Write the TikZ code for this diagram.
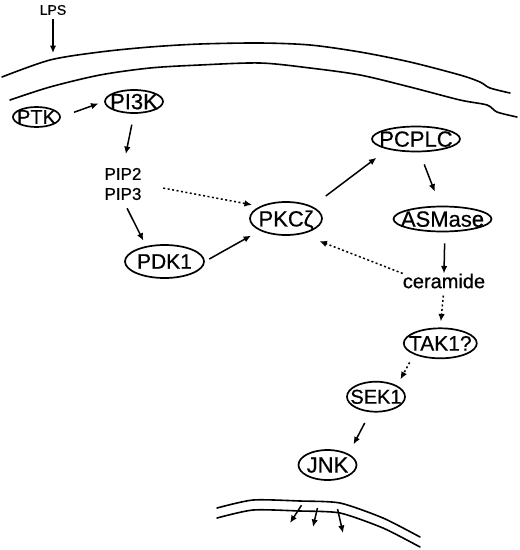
\documentclass[tikz,border=0pt]{standalone}
\usepackage{fontspec}
\setmainfont{Liberation Sans}[BoldFont={Liberation Sans},BoldFeatures={FakeBold=0.6}]
\usetikzlibrary{arrows.meta,shapes.geometric}
\begin{document}
\begin{tikzpicture}[x=1pt,y=-1pt,
  every node/.append style={font=\bfseries},
  ell/.style={ellipse,draw,line width=1.7pt,inner sep=0pt,text depth=0pt,font=\fontsize{22}{26}\selectfont\bfseries},
  arr/.style={line width=1.5pt,-{Latex[length=7.5pt,width=6.5pt]}},
  darr/.style={arr,dash pattern=on 2pt off 2.5pt},
  memb/.style={line width=1.6pt,line cap=round}]
\useasboundingbox (0,0) rectangle (520,550);
% plasma membrane
\draw[memb] plot[smooth,tension=0.5] coordinates {(2,77) (50,60) (100,52) (150,47) (200,44) (260,43) (310,45) (360,52) (410,62) (460,75) (480,82) (490,88) (510,93)};
\draw[memb] plot[smooth,tension=0.5] coordinates {(10,100) (50,87) (100,75) (150,68) (200,65) (260,63) (310,68) (360,75) (410,87) (460,100) (487,105) (497,112) (517,117)};
% nuclear membrane
\draw[memb] plot[smooth,tension=0.4] coordinates {(217,508) (253,500) (300,501) (340,503) (383,518) (420,537)};
\draw[memb] plot[smooth,tension=0.4] coordinates {(217,518) (253,510) (300,511) (340,513) (383,528) (420,547)};
% nodes
\node[font=\fontsize{14}{16}\selectfont\bfseries,inner sep=0pt] (lps) at (53,10) {LPS};
\coordinate (lpsend) at (53,53);
\node[ell,minimum width=47pt,minimum height=20pt,font=\fontsize{20}{24}\selectfont\bfseries] (ptk) at (36.5,117) {\makebox[0pt]{PTK}};
\node[ell,minimum width=58pt,minimum height=23pt] (pi3k) at (134,101.5) {\makebox[0pt]{PI3K}};
\node[font=\fontsize{17}{20}\selectfont\bfseries,align=center,inner sep=0pt] (pip) at (123,184) {PIP2\\PIP3};
\node[ell,minimum width=79pt,minimum height=33pt,font=\fontsize{21}{25}\selectfont\bfseries] (pdk1) at (164.5,261.5) {\makebox[0pt]{PDK1}};
\node[ell,minimum width=72pt,minimum height=33pt] (pkc) at (286,218.5) {\makebox[0pt]{PKCζ}};
\node[ell,minimum width=88pt,minimum height=25pt] (pcplc) at (416,139) {\makebox[0pt]{PCPLC}};
\node[ell,minimum width=98pt,minimum height=25pt] (asmase) at (442.5,219) {\makebox[0pt]{ASMase}};
\node[font=\fontsize{20}{24}\selectfont\bfseries,inner sep=0pt] (ceram) at (444,281) {ceramide};
\node[ell,minimum width=73pt,minimum height=30pt,font=\fontsize{21}{25}\selectfont\bfseries] (tak1) at (440.3,343.3) {\makebox[0pt]{TAK1?}};
\node[ell,minimum width=58pt,minimum height=30pt,font=\fontsize{20}{24}\selectfont\bfseries] (sek1) at (376,396.7) {\makebox[0pt]{SEK1}};
\node[ell,minimum width=58pt,minimum height=30pt] (jnk) at (327.5,465) {\makebox[0pt]{JNK}};
\coordinate (n1) at (290,523);
\coordinate (n2) at (313,527);
\coordinate (n3) at (343,533);
% connectors
\draw[arr,shorten <=4pt] (lps) -- (lpsend);
\draw[arr,shorten <=14pt,shorten >=6pt] (ptk.east) -- (pi3k.west);
\draw[arr,shorten <=11pt,shorten >=14pt] (pi3k.south) -- (pip.north);
\draw[arr,shorten <=9pt,shorten >=6pt] (pip.south) -- (pdk1.140);
\draw[arr,shorten <=5pt,shorten >=10pt] (pdk1.east) -- (pkc.205);
\draw[darr,shorten <=22pt,shorten >=8pt] (pip.east) -- (pkc.155);
\draw[arr,shorten <=17pt,shorten >=14pt] (pkc.25) -- (pcplc.200);
\draw[arr,shorten <=13pt,shorten >=15pt] (pcplc.-75) -- (asmase.100);
\draw[arr,shorten <=11pt] (asmase.-80) -- (ceram.north);
\draw[darr,shorten >=19pt] (ceram.north west) -- (pkc.-45);
\draw[darr,shorten <=7pt,shorten >=6pt] (ceram.south) -- (tak1.north);
\draw[darr,shorten <=9pt,shorten >=7pt] (tak1.south west) -- (sek1.north east);
\draw[arr,shorten <=12pt,shorten >=10.6pt] (sek1.-110) -- (jnk.north east);
\draw[arr,shorten <=30pt] (jnk) -- (n1);
\draw[arr,shorten <=28pt] (jnk) -- (n2);
\draw[arr,shorten <=29pt] (jnk) -- (n3);
\end{tikzpicture}
\end{document}
